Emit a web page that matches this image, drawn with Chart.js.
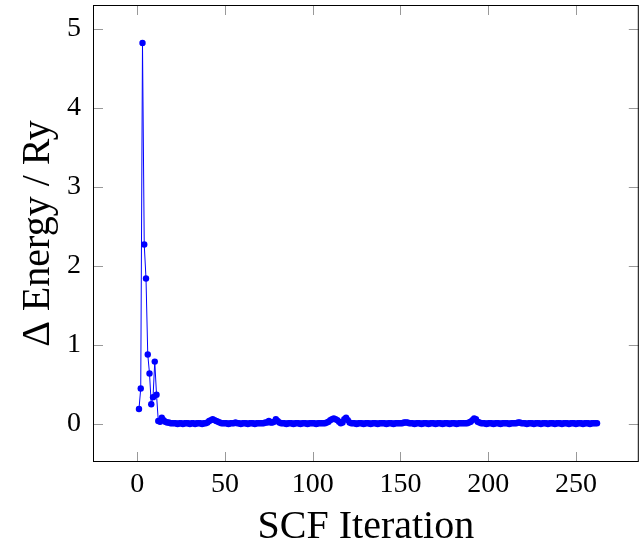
<!DOCTYPE html>
<html>
<head>
<meta charset="utf-8">
<script src="https://cdn.jsdelivr.net/npm/chart.js@4.4.1/dist/chart.umd.min.js"></script>
<style>
  html, body { margin: 0; padding: 0; background: #fff; }
  canvas { display: block; }
</style>
</head>
<body>
<canvas id="scfChart" width="642" height="542"></canvas>
<script>
// Energy change per SCF iteration (Ry)
const energyDelta = [
    0.19, 0.45, 4.82, 2.27, 1.84, 0.88, 0.64, 0.25, 0.34, 0.79,
    0.37, 0.04, 0.03, 0.08, 0.05, 0.03, 0.02, 0.02, 0.01, 0.01,
    0.01, 0.01, 0.00, 0.01, 0.01, 0.00, 0.01, 0.01, 0.01, 0.00,
    0.01, 0.01, 0.00, 0.01, 0.01, 0.01, 0.00, 0.01, 0.01, 0.02,
    0.04, 0.05, 0.06, 0.05, 0.04, 0.03, 0.02, 0.01, 0.01, 0.01,
    0.01, 0.00, 0.01, 0.01, 0.01, 0.02, 0.01, 0.01, 0.00, 0.01,
    0.01, 0.01, 0.00, 0.01, 0.01, 0.01, 0.00, 0.01, 0.01, 0.01,
    0.01, 0.01, 0.02, 0.02, 0.04, 0.02, 0.02, 0.03, 0.06, 0.04,
    0.02, 0.01, 0.01, 0.01, 0.00, 0.01, 0.01, 0.01, 0.00, 0.01,
    0.01, 0.01, 0.00, 0.01, 0.01, 0.01, 0.00, 0.01, 0.01, 0.01,
    0.01, 0.00, 0.01, 0.01, 0.01, 0.01, 0.01, 0.02, 0.03, 0.05,
    0.06, 0.07, 0.06, 0.05, 0.03, 0.01, 0.02, 0.06, 0.08, 0.05,
    0.02, 0.01, 0.01, 0.01, 0.00, 0.01, 0.01, 0.01, 0.00, 0.01,
    0.01, 0.01, 0.00, 0.01, 0.01, 0.01, 0.00, 0.01, 0.01, 0.01,
    0.01, 0.00, 0.01, 0.01, 0.01, 0.00, 0.01, 0.01, 0.01, 0.01,
    0.01, 0.02, 0.02, 0.02, 0.01, 0.01, 0.01, 0.00, 0.01, 0.01,
    0.01, 0.00, 0.01, 0.01, 0.01, 0.00, 0.01, 0.01, 0.01, 0.00,
    0.01, 0.01, 0.01, 0.00, 0.01, 0.01, 0.01, 0.00, 0.01, 0.01,
    0.01, 0.00, 0.01, 0.01, 0.01, 0.01, 0.01, 0.01, 0.02, 0.03,
    0.05, 0.07, 0.06, 0.03, 0.02, 0.01, 0.01, 0.01, 0.00, 0.01,
    0.01, 0.01, 0.00, 0.01, 0.01, 0.01, 0.00, 0.01, 0.01, 0.01,
    0.01, 0.00, 0.01, 0.01, 0.01, 0.01, 0.02, 0.02, 0.01, 0.01,
    0.01, 0.00, 0.01, 0.01, 0.01, 0.00, 0.01, 0.01, 0.01, 0.00,
    0.01, 0.01, 0.01, 0.00, 0.01, 0.01, 0.01, 0.00, 0.01, 0.01,
    0.01, 0.00, 0.01, 0.01, 0.01, 0.00, 0.01, 0.01, 0.01, 0.00,
    0.01, 0.01, 0.01, 0.00, 0.01, 0.01, 0.01, 0.00, 0.01, 0.01,
    0.01, 0.01
];
// iteration numbers start at 1
const iterations = energyDelta.map((_, i) => i + 1);

const xTicks = [0, 50, 100, 150, 200, 250];
const yTicks = [0, 1, 2, 3, 4, 5];

const serif = "'Liberation Serif', 'DejaVu Serif', serif";

// pgfplots-style frame: full box, short grey ticks pointing inwards on all sides
const frameTicks = {
    id: "frameTicks",
    afterDraw(chart) {
        const { ctx, chartArea: a, scales } = chart;
        const len = 10;
        ctx.save();
        ctx.strokeStyle = "#999999";
        ctx.lineWidth = 1;
        ctx.beginPath();
        xTicks.forEach(v => {
            const px = Math.round(scales.x.getPixelForValue(v)) + 0.5;
            ctx.moveTo(px, a.bottom); ctx.lineTo(px, a.bottom - len);
            ctx.moveTo(px, a.top); ctx.lineTo(px, a.top + len);
        });
        yTicks.forEach(v => {
            const py = Math.round(scales.y.getPixelForValue(v)) + 0.5;
            ctx.moveTo(a.left, py); ctx.lineTo(a.left + len, py);
            ctx.moveTo(a.right, py); ctx.lineTo(a.right - len, py);
        });
        ctx.stroke();
        ctx.strokeStyle = "#000000";
        ctx.strokeRect(a.left + 0.5, a.top + 0.5, a.right - a.left - 1, a.bottom - a.top - 1);
        ctx.restore();
    }
};

new Chart(document.getElementById("scfChart"), {
    type: "line",
    data: {
        datasets: [{
            data: iterations.map((it, i) => ({ x: it, y: energyDelta[i] })),
            borderColor: "#0000ff",
            backgroundColor: "#0000ff",
            borderWidth: 1,
            pointRadius: 3.2,
            pointBorderWidth: 0,
            pointHoverRadius: 3.2,
            tension: 0,
            fill: false,
        }]
    },
    options: {
        responsive: false,
        animation: false,
        devicePixelRatio: 1,
        layout: { padding: { top: 5, right: 2, left: 0, bottom: 0 } },
        plugins: {
            legend: { display: false },
            tooltip: { enabled: false }
        },
        scales: {
            x: {
                type: "linear",
                min: -25.2,
                max: 285.8,
                afterBuildTicks: s => { s.ticks = xTicks.map(v => ({ value: v })); },
                afterFit: s => { s.height = 80; s.paddingLeft = 0; s.paddingRight = 0; },
                grid: { display: false, drawTicks: false },
                border: { display: false },
                ticks: {
                    padding: 6,
                    color: "#000",
                    maxRotation: 0,
                    font: { family: serif, size: 28 }
                },
                title: {
                    display: true,
                    text: "SCF Iteration",
                    color: "#000",
                    padding: { top: 0, bottom: -5 },
                    font: { family: serif, size: 40, lineHeight: 1 }
                }
            },
            y: {
                type: "linear",
                min: -0.48,
                max: 5.3,
                afterBuildTicks: s => { s.ticks = yTicks.map(v => ({ value: v })); },
                afterFit: s => { s.width = 93; s.paddingTop = 0; s.paddingBottom = 0; },
                grid: { display: false, drawTicks: false },
                border: { display: false },
                ticks: {
                    padding: 12,
                    color: "#000",
                    font: { family: serif, size: 28 }
                },
                title: {
                    display: true,
                    text: "Δ Energy / Ry",
                    color: "#000",
                    padding: { top: 18, bottom: 0 },
                    font: { family: serif, size: 40, lineHeight: 1 }
                }
            }
        }
    },
    plugins: [frameTicks]
});
</script>
</body>
</html>
